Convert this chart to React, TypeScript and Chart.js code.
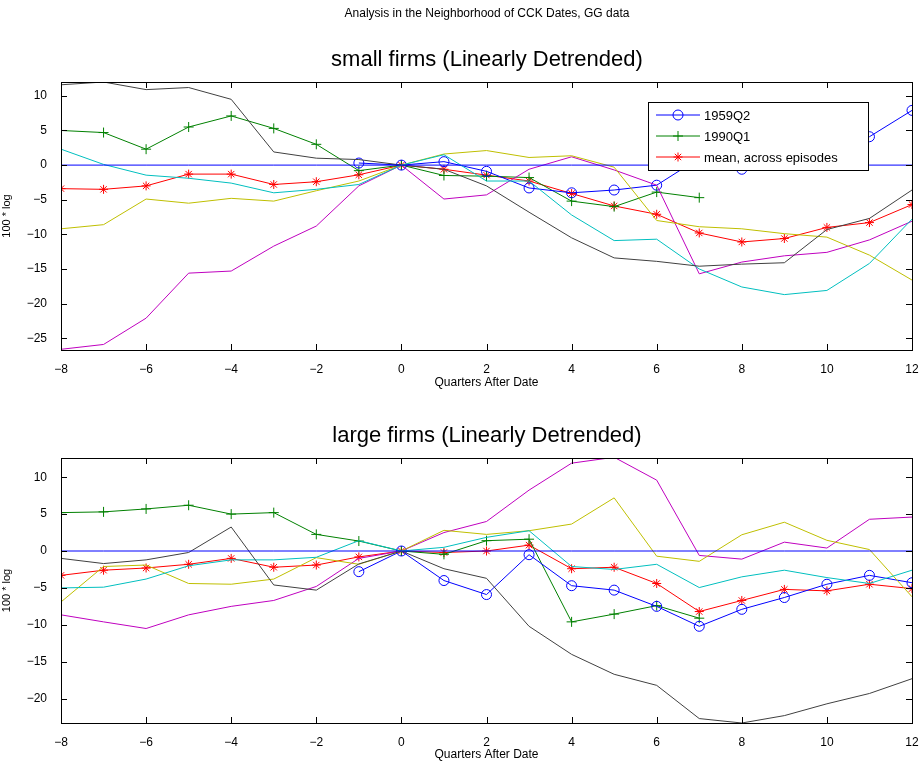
import React, { useEffect, useRef } from "react";
import { Chart, registerables } from "chart.js";
Chart.register(...registerables);

const quarters = [-8,-7,-6,-5,-4,-3,-2,-1,0,1,2,3,4,5,6,7,8,9,10,11,12];
const xTicks = [-8,-6,-4,-2,0,2,4,6,8,10,12];
const yTicksTop = [10,5,0,-5,-10,-15,-20,-25];
const yTicksBottom = [10,5,0,-5,-10,-15,-20];

// small firms
const sBlue = [null,null,null,null,null,null,null,0.3,0,0.5,-0.9,-3.3,-4.0,-3.6,-2.9,1.0,-0.6,1.5,3.0,4.1,7.9];
const sGreen = [5.0,4.7,2.3,5.5,7.1,5.3,3.0,-0.8,0,-1.5,-1.6,-1.8,-5.2,-6.0,-3.9,-4.7,null,null,null,null,null];
const sRed = [-3.4,-3.5,-3.0,-1.3,-1.3,-2.8,-2.4,-1.4,0,-0.6,-1.45,-2.3,-4.1,-5.9,-7.1,-9.8,-11.1,-10.6,-9.0,-8.3,-5.7];
const sBlack = [11.6,12.0,10.9,11.2,9.5,1.9,1.0,0.8,0,-0.6,-3.0,-6.8,-10.5,-13.4,-13.9,-14.6,-14.3,-14.1,-9.3,-7.7,-3.6];
const sCyan = [2.3,0.1,-1.45,-1.9,-2.6,-4.0,-3.5,-2.8,0,1.5,-2.3,-2.3,-7.2,-10.9,-10.7,-15.0,-17.6,-18.7,-18.1,-14.2,-7.8];
const sYellow = [-9.2,-8.6,-4.9,-5.5,-4.8,-5.2,-3.7,-2.3,0,1.6,2.1,1.1,1.35,-0.3,-8.0,-8.9,-9.2,-9.9,-10.4,-13.0,-16.6];
const sMagenta = [-26.6,-25.9,-22.1,-15.6,-15.3,-11.7,-8.8,-3.0,0,-4.9,-4.3,-0.6,1.2,-0.7,-2.9,-15.7,-14.0,-13.1,-12.6,-10.8,-8.1];

// large firms
const lBlue = [null,null,null,null,null,null,null,-2.8,0,-4.0,-5.9,-0.5,-4.7,-5.3,-7.5,-10.2,-7.9,-6.3,-4.5,-3.3,-4.3];
const lGreen = [5.2,5.3,5.7,6.2,5.0,5.2,2.25,1.35,0,-0.45,1.4,1.6,-9.6,-8.55,-7.4,-9.1,null,null,null,null,null];
const lRed = [-3.3,-2.6,-2.3,-1.8,-1.0,-2.2,-1.9,-0.8,0,-0.2,0.0,0.8,-2.4,-2.2,-4.4,-8.2,-6.7,-5.2,-5.4,-4.5,-5.1];
const lBlack = [-1.0,-1.7,-1.2,-0.2,3.25,-4.6,-5.3,-1.75,0,-2.4,-3.7,-10.2,-14.0,-16.7,-18.2,-22.7,-23.3,-22.3,-20.7,-19.3,-17.3];
const lCyan = [-5.0,-4.9,-3.8,-2.0,-1.2,-1.2,-0.85,1.4,0,0.5,1.85,2.75,-2.1,-2.5,-1.8,-4.95,-3.5,-2.6,-3.6,-4.4,-2.6];
const lYellow = [-6.9,-2.1,-1.9,-4.4,-4.5,-3.8,-0.9,-1.8,0,2.8,2.25,2.75,3.65,7.2,-0.7,-1.4,2.2,3.9,1.45,0.2,-6.2];
const lMagenta = [-8.65,-9.6,-10.5,-8.65,-7.5,-6.7,-4.8,-1.0,0,2.5,4.0,8.25,11.9,12.7,9.6,-0.6,-1.1,1.2,0.4,4.3,4.6];

const zeros = quarters.map(() => 0);
const legendLabels = ["1959Q2", "1990Q1", "mean, across episodes"];

const FONT = "'Liberation Sans', Arial, Helvetica, sans-serif";
const C = { blue: "#0000ff", green: "#008000", red: "#ff0000", cyan: "#00bfbf", magenta: "#bf00bf", yellow: "#bfbf00", black: "#404040" };

const pts = (arr: (number | null)[]) => quarters.map((x, i) => ({ x, y: arr[i] }));

function makeDatasets(s: any) {
  const line = (data: any, color: string, extra: any = {}) => ({
    data: pts(data), borderColor: color, backgroundColor: "transparent", borderWidth: 1,
    pointRadius: 0, spanGaps: false, tension: 0, ...extra,
  });
  return [
    line(zeros, C.blue),
    line(s.black, C.black),
    line(s.cyan, C.cyan),
    line(s.yellow, C.yellow),
    line(s.magenta, C.magenta),
    line(s.blue, C.blue, { pointRadius: 5, pointStyle: "circle", pointBorderColor: C.blue, pointBorderWidth: 1 }),
    line(s.green, C.green, { pointRadius: 5, pointStyle: "cross", pointBorderColor: C.green, pointBorderWidth: 1 }),
    line(s.red, C.red, { pointRadius: 4.5, pointStyle: "star", pointBorderColor: C.red, pointBorderWidth: 1 }),
  ];
}

function marker(ctx: CanvasRenderingContext2D, kind: number, x: number, y: number) {
  ctx.beginPath();
  if (kind === 0) {
    ctx.arc(x, y, 5, 0, Math.PI * 2);
  } else if (kind === 1) {
    ctx.moveTo(x - 5, y); ctx.lineTo(x + 5, y); ctx.moveTo(x, y - 5); ctx.lineTo(x, y + 5);
  } else {
    const r = 4.5;
    ctx.moveTo(x - r, y); ctx.lineTo(x + r, y); ctx.moveTo(x, y - r); ctx.lineTo(x, y + r);
    const d = r * Math.SQRT1_2;
    ctx.moveTo(x - d, y - d); ctx.lineTo(x + d, y + d); ctx.moveTo(x - d, y + d); ctx.lineTo(x + d, y - d);
  }
  ctx.stroke();
}

const framePlugin = {
  id: "frame",
  afterDraw(chart: any, _a: any, opts: any) {
    const { ctx, chartArea: a, scales } = chart;
    ctx.save();
    ctx.strokeStyle = "#000";
    ctx.lineWidth = 1;
    ctx.strokeRect(a.left + 0.5, a.top + 0.5, a.right - a.left, a.bottom - a.top);
    const L = 6;
    ctx.beginPath();
    for (const t of xTicks) {
      const px = Math.round(scales.x.getPixelForValue(t)) + 0.5;
      ctx.moveTo(px, a.bottom); ctx.lineTo(px, a.bottom - L);
      ctx.moveTo(px, a.top); ctx.lineTo(px, a.top + L);
    }
    for (const t of opts.yTicks) {
      const py = Math.round(scales.y.getPixelForValue(t)) + 0.5;
      ctx.moveTo(a.left, py); ctx.lineTo(a.left + L, py);
      ctx.moveTo(a.right, py); ctx.lineTo(a.right - L, py);
    }
    ctx.stroke();
    if (opts.legend) {
      const bx = 648, by = 102, bw = 220, bh = 68;
      ctx.fillStyle = "#fff";
      ctx.fillRect(bx, by, bw, bh);
      ctx.strokeStyle = "#000";
      ctx.strokeRect(bx + 0.5, by + 0.5, bw, bh);
      const cols = [C.blue, C.green, C.red];
      legendLabels.forEach((lab, i) => {
        const y = by + 13 + i * 21;
        ctx.strokeStyle = cols[i];
        ctx.beginPath(); ctx.moveTo(656, y); ctx.lineTo(700, y); ctx.stroke();
        marker(ctx, i, 678, y);
        ctx.fillStyle = "#000";
        ctx.font = `13px ${FONT}`;
        ctx.textBaseline = "middle";
        ctx.fillText(lab, 704, y + 1);
      });
    }
    ctx.restore();
  },
};

function Panel({ s, yMin, yMax, yTicks, legend, height, xAxisH }: any) {
  const ref = useRef<HTMLCanvasElement>(null);
  useEffect(() => {
    const fmt = (v: any) => (v < 0 ? "\u2212" + Math.abs(v) : String(v));
    const ch = new Chart(ref.current!, {
      type: "line",
      data: { datasets: makeDatasets(s) as any },
      plugins: [framePlugin],
      options: {
        animation: false,
        responsive: false,
        devicePixelRatio: 1,
        layout: { padding: { top: 82, right: 12, left: 0, bottom: 0 } },
        plugins: { legend: { display: false }, tooltip: { enabled: false }, frame: { yTicks, legend } } as any,
        scales: {
          x: {
            type: "linear", min: -8, max: 12,
            afterBuildTicks: (sc: any) => { sc.ticks = xTicks.map((v) => ({ value: v })); },
            afterFit: (sc: any) => { sc.height = xAxisH; },
            grid: { display: false },
            border: { display: false },
            ticks: { color: "#000", font: { family: FONT, size: 12 }, padding: 4, maxRotation: 0, callback: fmt },
            title: { display: true, text: "Quarters After Date", color: "#000", font: { family: FONT, size: 12 }, padding: { top: 0, bottom: 0 } },
          },
          y: {
            min: yMin, max: yMax,
            afterBuildTicks: (sc: any) => { sc.ticks = yTicks.map((v: number) => ({ value: v })); },
            afterFit: (sc: any) => { sc.width = 61; },
            grid: { display: false },
            border: { display: false },
            ticks: { color: "#000", font: { family: FONT, size: 12 }, padding: 6, callback: fmt },
            title: { display: true, text: "100 * log", color: "#000", font: { family: FONT, size: 11 }, padding: { top: 0, bottom: 4 } },
          },
        },
      },
    });
    return () => ch.destroy();
  }, []);
  return <canvas ref={ref} width={924} height={height} style={{ display: "block" }} />;
}

export default function App() {
  const small = { blue: sBlue, green: sGreen, red: sRed, black: sBlack, cyan: sCyan, yellow: sYellow, magenta: sMagenta };
  const large = { blue: lBlue, green: lGreen, red: lRed, black: lBlack, cyan: lCyan, yellow: lYellow, magenta: lMagenta };
  const txt: React.CSSProperties = { position: "absolute", left: 0, width: 974, textAlign: "center", fontFamily: FONT, color: "#000", whiteSpace: "nowrap" };
  return (
    <div style={{ position: "absolute", left: 0, top: 0, width: 924, height: 762, background: "#fff", overflow: "hidden" }}>
      <div style={{ position: "absolute", left: 0, top: 0 }}>
        <Panel s={small} yMin={-26.7} yMax={12.0} yTicks={yTicksTop} legend={true} height={390} xAxisH={40} />
      </div>
      <div style={{ position: "absolute", left: 0, top: 376 }}>
        <Panel s={large} yMin={-23.3} yMax={12.6} yTicks={yTicksBottom} legend={false} height={386} xAxisH={39} />
      </div>
      <div style={{ ...txt, top: 6, fontSize: 12 }}>Analysis in the Neighborhood of CCK Dates, GG data</div>
      <div style={{ ...txt, top: 46, fontSize: 22 }}>small firms (Linearly Detrended)</div>
      <div style={{ ...txt, top: 422, fontSize: 22 }}>large firms (Linearly Detrended)</div>
    </div>
  );
}
